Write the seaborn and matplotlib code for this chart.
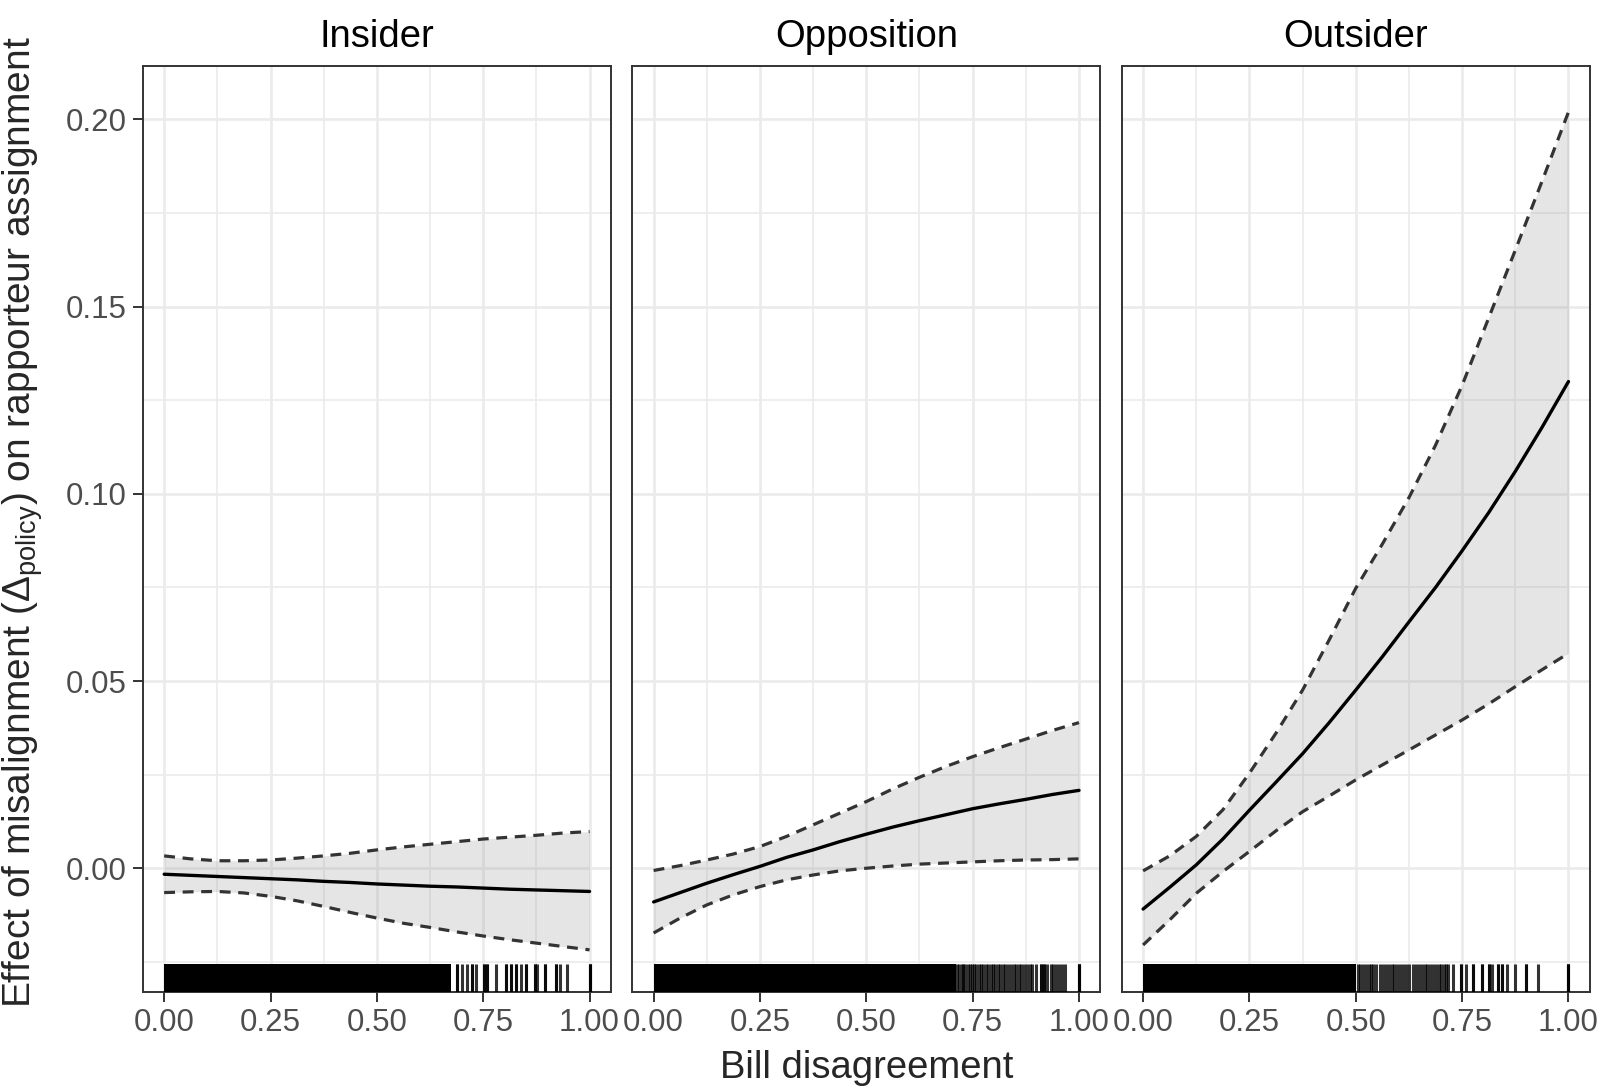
import numpy as np
import pandas as pd
import seaborn as sns
import matplotlib.pyplot as plt
from matplotlib.ticker import MultipleLocator, FormatStrFormatter

# Values
groups = ['Insider', 'Opposition', 'Outsider']
x_grid = [0.0, 0.0625, 0.125, 0.1875, 0.25, 0.3125, 0.375, 0.4375, 0.5,
          0.5625, 0.625, 0.6875, 0.75, 0.8125, 0.875, 0.9375, 1.0]

insider_fit = [-0.0016, -0.0019, -0.0022, -0.0025, -0.0028, -0.0031, -0.0035, -0.0038, -0.0042,
               -0.0045, -0.0048, -0.0050, -0.0053, -0.0056, -0.0058, -0.0060, -0.0062]
insider_lo = [-0.0065, -0.0063, -0.0062, -0.0066, -0.0075, -0.0087, -0.0102, -0.0118, -0.0133,
              -0.0147, -0.0158, -0.0170, -0.0181, -0.0191, -0.0200, -0.0209, -0.0218]
insider_hi = [0.0033, 0.0025, 0.0020, 0.0020, 0.0022, 0.0027, 0.0033, 0.0040, 0.0049,
              0.0057, 0.0064, 0.0071, 0.0078, 0.0083, 0.0088, 0.0094, 0.0098]

opposition_fit = [-0.0090, -0.0065, -0.0040, -0.0017, 0.0005, 0.0029, 0.0049, 0.0071, 0.0091,
                  0.0110, 0.0127, 0.0143, 0.0159, 0.0172, 0.0184, 0.0197, 0.0208]
opposition_lo = [-0.0173, -0.0133, -0.0098, -0.0071, -0.0049, -0.0031, -0.0018, -0.0007, 0.0000,
                 0.0006, 0.0011, 0.0014, 0.0017, 0.0020, 0.0022, 0.0023, 0.0025]
opposition_hi = [-0.0006, 0.0007, 0.0022, 0.0038, 0.0058, 0.0085, 0.0116, 0.0147, 0.0178,
                 0.0212, 0.0243, 0.0272, 0.0298, 0.0322, 0.0345, 0.0368, 0.0389]

outsider_fit = [-0.0109, -0.0051, 0.0009, 0.0078, 0.0155, 0.0230, 0.0306, 0.0389, 0.0476,
                0.0565, 0.0658, 0.0750, 0.0848, 0.0950, 0.1060, 0.1177, 0.1300]
outsider_lo = [-0.0205, -0.0138, -0.0067, -0.0009, 0.0045, 0.0100, 0.0151, 0.0193, 0.0236,
               0.0276, 0.0316, 0.0356, 0.0396, 0.0439, 0.0485, 0.0530, 0.0574]
outsider_hi = [-0.0007, 0.0033, 0.0085, 0.0156, 0.0254, 0.0361, 0.0476, 0.0610, 0.0748,
               0.0866, 0.0990, 0.1130, 0.1290, 0.1470, 0.1651, 0.1834, 0.2020]

# rug: range where observations are packed solid, plus the sparser ticks above it
insider_rug_block = [0.0, 0.675]
insider_rug = [0.6875, 0.6875, 0.699, 0.711, 0.723, 0.723, 0.734, 0.7516, 0.7516, 0.758, 0.758,
               0.781, 0.803, 0.803, 0.815, 0.815, 0.8266, 0.8266, 0.840, 0.8516, 0.8516,
               0.871, 0.871, 0.8766, 0.8945, 0.8945, 0.922, 0.922, 0.930, 0.947, 1.0, 1.0, 1.0]

opposition_rug_block = [0.0, 0.71]
opposition_rug = [0.714, 0.719, 0.724, 0.728, 0.733, 0.738, 0.744, 0.749, 0.753, 0.758, 0.764,
                  0.769, 0.775, 0.781, 0.786, 0.792, 0.797, 0.803, 0.809, 0.815, 0.821, 0.827,
                  0.833, 0.839, 0.846, 0.852, 0.858, 0.864, 0.871, 0.877, 0.884, 0.889,
                  0.898, 0.91, 0.91, 0.917, 0.917, 0.925, 0.933, 0.94, 0.945, 0.952, 0.96,
                  0.967, 1.0, 1.0, 1.0]

outsider_rug_block = [0.0, 0.50]
outsider_rug = [0.505, 0.511, 0.517, 0.523, 0.530, 0.536, 0.541, 0.548, 0.556, 0.563, 0.570,
                0.577, 0.584, 0.590, 0.597, 0.603, 0.610, 0.617, 0.625, 0.634, 0.641, 0.648,
                0.655, 0.662, 0.668, 0.675, 0.681, 0.688, 0.695, 0.701, 0.707, 0.712,
                0.716, 0.7275, 0.747, 0.747, 0.759, 0.776, 0.776, 0.796, 0.796, 0.813, 0.813,
                0.821, 0.835, 0.835, 0.843, 0.843, 0.856, 0.874, 0.899, 0.899, 0.928, 1.0, 1.0, 1.0]

fits = {'Insider': (insider_fit, insider_lo, insider_hi),
        'Opposition': (opposition_fit, opposition_lo, opposition_hi),
        'Outsider': (outsider_fit, outsider_lo, outsider_hi)}
rugs = {'Insider': (insider_rug_block, insider_rug),
        'Opposition': (opposition_rug_block, opposition_rug),
        'Outsider': (outsider_rug_block, outsider_rug)}

rows = []
for g in groups:
    fit, lo, hi = fits[g]
    for x, f, l, h in zip(x_grid, fit, lo, hi):
        rows.append({'group': g, 'x': x, 'fit': f, 'lo': l, 'hi': h})
df = pd.DataFrame(rows)

sns.set_theme(style='white')
plt.rcParams['font.family'] = ['Liberation Sans', 'DejaVu Sans']
plt.rcParams['mathtext.fontset'] = 'custom'
plt.rcParams['mathtext.rm'] = 'Liberation Sans'
plt.rcParams['mathtext.it'] = 'Liberation Sans:italic'

fig, axes = plt.subplots(1, 3, figsize=(16, 10.9), dpi=100, sharey=True)
fig.subplots_adjust(left=0.0893, right=0.9936, top=0.9392, bottom=0.0901, wspace=0.046)

dash = (0, (3.4, 2.4))
for ax, g in zip(axes, groups):
    d = df[df['group'] == g]
    ax.set_axisbelow(True)
    ax.fill_between(d['x'], d['lo'], d['hi'], color='#999999', alpha=0.25, lw=0, zorder=2)
    sns.lineplot(data=d, x='x', y='fit', ax=ax, color='black', lw=2.4, zorder=4)
    sns.lineplot(data=d, x='x', y='lo', ax=ax, color='#333333', lw=2.3, linestyle=dash, zorder=3)
    sns.lineplot(data=d, x='x', y='hi', ax=ax, color='#333333', lw=2.3, linestyle=dash, zorder=3)

    block, ticks = rugs[g]
    ax.axvspan(block[0], block[1], ymin=0, ymax=0.03, color='black', lw=0, zorder=5)
    sns.rugplot(x=ticks, ax=ax, height=0.03, color='black', alpha=0.8, linewidth=2.2,
                expand_margins=False, zorder=5)

    ax.set_xlim(-0.05, 1.05)
    ax.set_ylim(-0.033, 0.2142)
    ax.xaxis.set_major_locator(MultipleLocator(0.25))
    ax.xaxis.set_minor_locator(MultipleLocator(0.125))
    ax.yaxis.set_major_locator(MultipleLocator(0.05))
    ax.yaxis.set_minor_locator(MultipleLocator(0.025))
    ax.xaxis.set_major_formatter(FormatStrFormatter('%.2f'))
    ax.yaxis.set_major_formatter(FormatStrFormatter('%.2f'))
    ax.grid(which='major', color='#EBEBEB', lw=1.9)
    ax.grid(which='minor', color='#EBEBEB', lw=1.2)
    ax.tick_params(which='major', bottom=True, left=(g == 'Insider'), length=7, width=1.4,
                   color='#333333', labelsize=22.5, labelcolor='#4D4D4D', pad=4.5)
    ax.tick_params(which='minor', length=0)
    for s in ax.spines.values():
        s.set_color('#333333')
        s.set_linewidth(1.4)
        s.set_visible(True)
    ax.set_xlabel('')
    ax.set_ylabel('')
    ax.set_title(g, fontsize=27.5, color='black', pad=14)

fig.text(0.5415, 0.020, 'Bill disagreement', fontsize=27.5, ha='center', va='center')
fig.text(0.014, 0.5206, r'Effect of misalignment ($\Delta_{\mathrm{policy}}$) on rapporteur assignment',
         fontsize=28, rotation=90, ha='center', va='center')

plt.savefig('out.png', dpi=100)
